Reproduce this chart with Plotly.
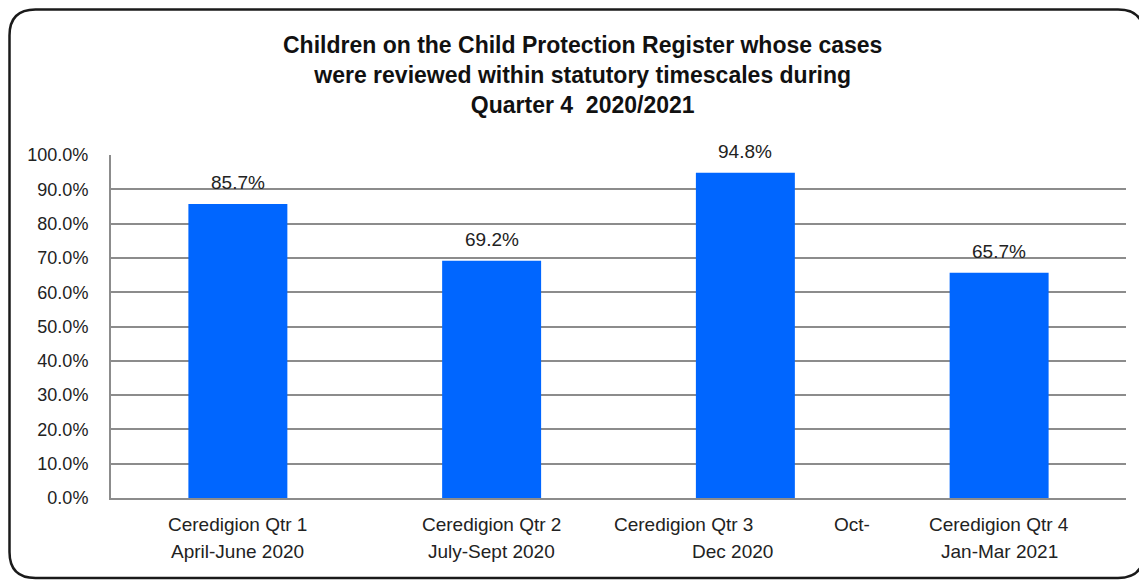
import plotly.graph_objects as go

categories = ["Q1", "Q2", "Q3", "Q4"]
values = [85.7, 69.2, 94.8, 65.7]
value_labels = ["85.7%", "69.2%", "94.8%", "65.7%"]
label_line1 = ["Ceredigion Qtr 1", "Ceredigion Qtr 2", "Ceredigion Qtr 3", "Ceredigion Qtr 4"]
label_line2 = ["April-June 2020", "July-Sept 2020", "Dec 2020", "Jan-Mar 2021"]
tick_vals = [0, 10, 20, 30, 40, 50, 60, 70, 80, 90, 100]
tick_text = ["0.0%", "10.0%", "20.0%", "30.0%", "40.0%", "50.0%",
             "60.0%", "70.0%", "80.0%", "90.0%", "100.0%"]
title_text = ("Children on the Child Protection Register whose cases<br>"
              "were reviewed within statutory timescales during<br>"
              "Quarter 4  2020/2021")

# page has an 8px body margin; figure sized to fit the window
W, H = 1139, 575
ML, MT = 103, 147
PW, PH = 1015, 343
MR, MB = W - ML - PW, H - MT - PH

FONT = "Liberation Sans, Arial, sans-serif"

fig = go.Figure()
fig.add_trace(go.Bar(
    x=categories, y=values, width=0.39,
    marker=dict(color="#0066FF", line=dict(width=0)),
    hoverinfo="x+y",
))

annotations = []
for c, v, t in zip(categories, values, value_labels):
    annotations.append(dict(x=c, y=v, xref="x", yref="y", text=t, showarrow=False,
                            yanchor="bottom", yshift=9,
                            font=dict(family=FONT, size=19, color="#222")))

lab_font = dict(family=FONT, size=19, color="#222")
for i, c in enumerate(categories):
    x1 = -62 if i == 2 else 0
    x2 = -13 if i == 2 else 0
    annotations.append(dict(x=c, y=0, xref="x", yref="y", text=label_line1[i],
                            showarrow=False, yanchor="top", yshift=-14, xshift=x1,
                            font=lab_font))
    annotations.append(dict(x=c, y=0, xref="x", yref="y", text=label_line2[i],
                            showarrow=False, yanchor="top", yshift=-41, xshift=x2,
                            font=lab_font))
    if i == 2:
        annotations.append(dict(x=c, y=0, xref="x", yref="y", text="Oct-",
                                showarrow=False, yanchor="top", yshift=-14, xshift=107,
                                font=lab_font))

def px(xp):
    return (xp - ML) / PW

def py(yp):
    return (H - MB - yp) / PH

annotations.append(dict(x=px(574), y=py(67), xref="paper", yref="paper",
                        xanchor="center", yanchor="middle", showarrow=False,
                        text="<b>" + title_text + "</b>",
                        font=dict(family=FONT, size=23, color="#111")))

# rounded border (figure pixel coords -> paper coords)
L, R, T, B, r = 1.5, 1136, 1.5, 570, 26
pts = [
    ("M", (L + r, T)), ("L", (R - r, T)), ("Q", (R, T), (R, T + r)),
    ("L", (R, B - r)), ("Q", (R, B), (R - r, B)), ("L", (L + r, B)),
    ("Q", (L, B), (L, B - r)), ("L", (L, T + r)), ("Q", (L, T), (L + r, T)),
]
path = ""
for p in pts:
    coords = " ".join(f"{px(a):.5f},{py(b):.5f}" for a, b in p[1:])
    path += f"{p[0]} {coords} "
path += "Z"

fig.update_layout(
    width=W, height=H,
    margin=dict(l=ML, r=MR, t=MT, b=MB),
    paper_bgcolor="white", plot_bgcolor="white",
    showlegend=False,
    annotations=annotations,
    shapes=[dict(type="path", path=path, xref="paper", yref="paper",
                 line=dict(color="#1a1a1a", width=2.5), layer="above")],
    xaxis=dict(showticklabels=False, showgrid=False, zeroline=False,
               showline=True, linecolor="#8c8c8c", linewidth=2, ticks=""),
    yaxis=dict(range=[0, 100], tickvals=tick_vals, ticktext=tick_text,
               showgrid=True, gridcolor="#8c8c8c", gridwidth=2,
               zeroline=False, showline=True, linecolor="#8c8c8c", linewidth=2,
               ticks="", ticklabelstandoff=17,
               tickfont=dict(family=FONT, size=18, color="#222")),
)
fig.write_html("out.html")
